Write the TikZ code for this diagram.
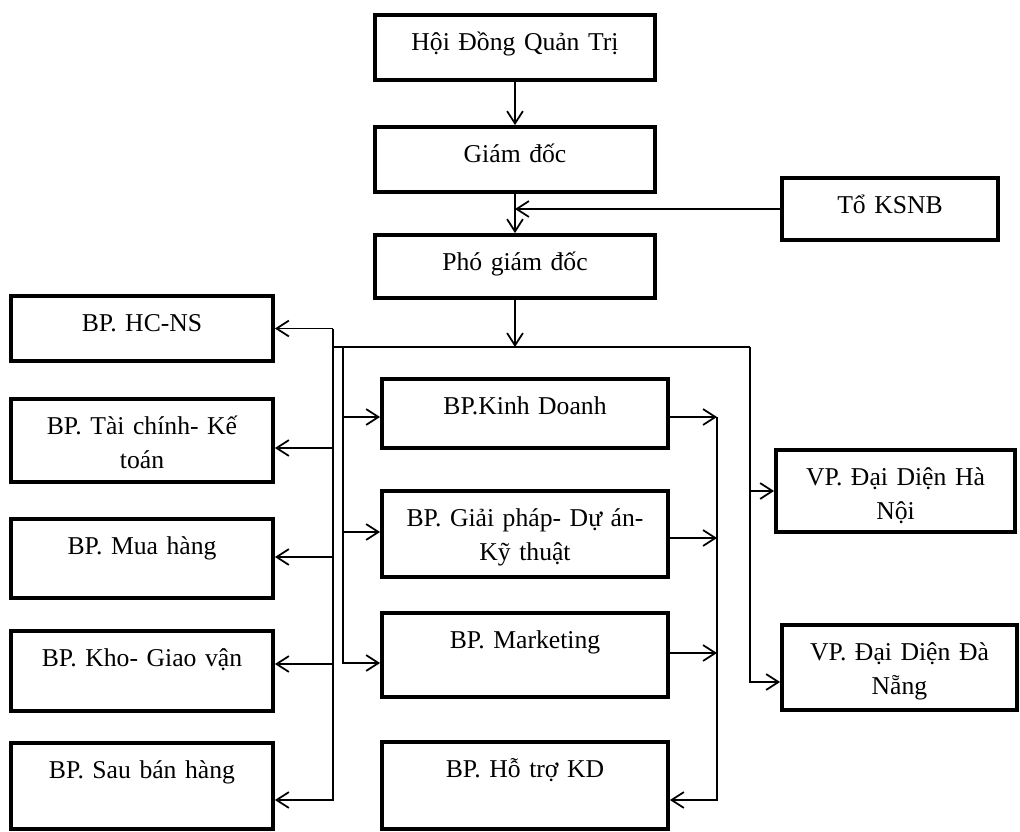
\documentclass[tikz,border=0pt]{standalone}
\usepackage{fontspec}
\setmainfont{Liberation Serif}
\usetikzlibrary{arrows.meta}
\tikzset{
  box/.style 2 args={draw, line width=2.2pt, inner sep=0pt, align=center,
    minimum width=#1cm, text width=#1cm-0.3cm,
    text height=0.7cm, text depth=#2cm-0.7cm,
    font=\fontsize{14.6}{19.5}\selectfont},
  conn/.style={-{Straight Barb[length=7pt,width=9pt]}}
}

\begin{document}
\begin{tikzpicture}[line width=1pt]
			\useasboundingbox (0,0) rectangle (20.4,-16.62);
			% top of the chart
			\node[box={5.6}{1.3}] (hdqt) at (10.3,-0.95) {Hội Đồng Quản Trị};
			\node[box={5.6}{1.3}] (gd) at (10.3,-3.19) {Giám đốc};
			\node[box={5.6}{1.26}] (pgd) at (10.3,-5.33) {Phó giám đốc};
			\node[box={4.32}{1.24}] (ksnb) at (17.8,-4.18) {Tổ KSNB};
			% left column
			\node[box={5.24}{1.3}] (hcns) at (2.84,-6.57) {BP. HC-NS};
			\node[box={5.24}{1.66}] (tckt) at (2.84,-8.81) {BP. Tài chính- Kế\\toán};
			\node[box={5.24}{1.58}] (mh) at (2.84,-11.17) {BP. Mua hàng};
			\node[box={5.24}{1.6}] (kho) at (2.84,-13.42) {BP. Kho- Giao vận};
			\node[box={5.24}{1.72}] (sbh) at (2.84,-15.72) {BP. Sau bán hàng};
			% middle column
			\node[box={5.72}{1.38}] (kd) at (10.5,-8.27) {BP.Kinh Doanh};
			\node[box={5.72}{1.72}] (gp) at (10.5,-10.68) {BP. Giải pháp- Dự án-\\Kỹ thuật};
			\node[box={5.72}{1.68}] (mk) at (10.5,-13.1) {BP. Marketing};
			\node[box={5.72}{1.74}] (ht) at (10.5,-15.71) {BP. Hỗ trợ KD};
			% offices
			\node[box={4.78}{1.64}] (hn) at (17.91,-9.82) {VP. Đại Diện Hà\\Nội};
			\node[box={4.7}{1.7}] (dn) at (17.99,-13.35) {VP. Đại Diện Đà\\Nẵng};
			% bus lines
			\coordinate (busC) at (10.3,-6.94);
			\coordinate (busL) at (6.66,-6.94);
			\coordinate (busR) at (15.0,-6.94);
			\coordinate (trai) at (6.66,-6.58);
			\coordinate (giua) at (6.86,-6.94);
			\coordinate (phai) at (14.34,-8.34);
			% arrows
			\draw[conn] (hdqt) -- (gd);
			\draw[conn] (gd) -- (pgd);
			\draw[conn] (ksnb.west) -- (ksnb.west -| gd.south);
			\draw[conn] (pgd) -- (busC);
			\draw (busL) -- (busR);
			\draw[conn] (trai) |- ([yshift=-0.28cm]sbh.east);
			\foreach \n/\dy in {hcns/0, tckt/-0.15, mh/0.03, kho/0.14}
				\draw[conn] ([yshift=\dy cm]\n.east -| trai) -- ([yshift=\dy cm]\n.east);
			\draw[conn] (giua) |- ([yshift=-0.16cm]mk.west);
			\foreach \n/\dy in {kd/-0.07, gp/0.04}
				\draw[conn] ([yshift=\dy cm]\n.west -| giua) -- ([yshift=\dy cm]\n.west);
			\draw[conn] ([yshift=-0.07cm]kd.east) -- (phai);
			\foreach \n/\dy in {gp/-0.08, mk/0.04}
				\draw[conn] ([yshift=\dy cm]\n.east) -- ([yshift=\dy cm]\n.east -| phai);
			\draw[conn] (phai) |- ([yshift=-0.29cm]ht.east);
			\draw[conn] (busR) |- (hn.west);
			\draw[conn] (busR) |- ([yshift=-0.29cm]dn.west);
		\end{tikzpicture}
\end{document}
